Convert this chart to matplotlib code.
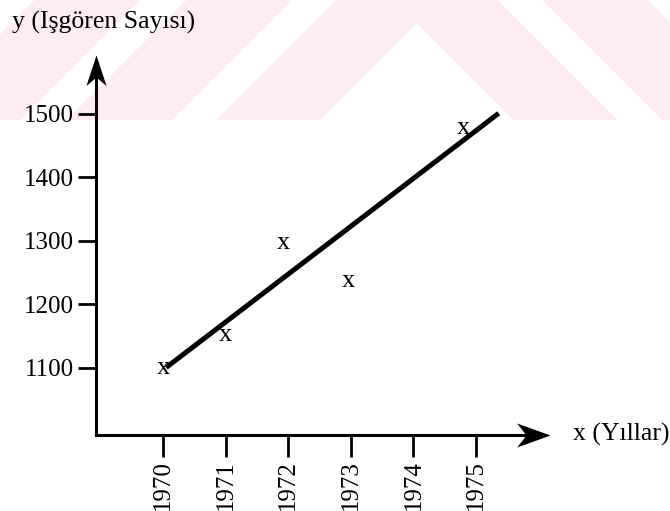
import numpy as np
import matplotlib.pyplot as plt
from matplotlib.path import Path

plt.rcParams['font.family'] = ['Liberation Serif', 'DejaVu Serif']

# veriler
yillar = [1970, 1971, 1971.92, 1972.96, 1974.8]
isgoren = [1100, 1152, 1297, 1236, 1478]
trend_x = [1970.05, 1975.36]
trend_y = [1100, 1501]
x_ticks = [1970, 1971, 1972, 1973, 1974, 1975]
y_ticks = [1100, 1200, 1300, 1400, 1500]

fig = plt.figure(figsize=(6.7, 5.11), dpi=100)

# arka plandaki soluk pembe filigran
H, W = 511, 670
yy, xx = np.mgrid[0:H, 0:W] + 0.5
s = np.where(xx < 417, xx + yy, 834 - xx + yy)
beyaz = (s < 35) | ((s > 140) & (s < 187)) | ((s > 292) & (s < 337)) | (s > 440) | (yy > 120)
pembe = np.array([253, 237, 240]) / 255
img = np.where(beyaz[..., None], np.ones(3), pembe)
bg = fig.add_axes([0, 0, 1, 1], zorder=-1)
bg.imshow(img, extent=[0, W, H, 0], aspect='auto', interpolation='bilinear')
bg.axis('off')

ax = fig.add_axes([0.1433, 0.1487, 0.6776, 0.7437])
ax.patch.set_alpha(0)
ax.set_xlim(1968.93, 1976.18)
ax.set_ylim(993.5, 1593)
for sp in ax.spines.values():
    sp.set_visible(False)

# eksen cizgileri ve tirnakli ok uclari
ok_sag = Path([(0, 0), (-1, 0.36), (-0.72, 0), (-1, -0.36), (0, 0)])
ok_ust = Path([(0, 0), (-0.33, -1), (0, -0.72), (0.33, -1), (0, 0)])
ax.plot([0, 0.97], [0, 0], color='black', lw=2.2, transform=ax.transAxes, clip_on=False)
ax.plot([0, 0], [0, 0.96], color='black', lw=2.2, transform=ax.transAxes, clip_on=False)
ax.plot([1], [0], marker=ok_sag, ms=48, color='black', mew=0, transform=ax.transAxes, clip_on=False)
ax.plot([0], [1], marker=ok_ust, ms=44, color='black', mew=0, transform=ax.transAxes, clip_on=False)

ax.set_xticks(x_ticks)
ax.set_xticklabels([str(t) for t in x_ticks], rotation=90, fontsize=18)
ax.set_yticks(y_ticks)
ax.set_yticklabels([str(t) for t in y_ticks], fontsize=18)
ax.tick_params(axis='x', length=16, width=2, pad=2, direction='out')
ax.tick_params(axis='y', length=13, width=2, pad=3, direction='out')

# regresyon dogrusu
ax.plot(trend_x, trend_y, color='black', lw=3.6, solid_capstyle='butt', clip_on=False)

# gozlem noktalari "x" harfi ile
for xi, yi in zip(yillar, isgoren):
    ax.text(xi, yi, 'x', fontsize=19, ha='center', va='center')

fig.text(12 / 670, 1 - 29 / 511, 'y (Işgören Sayısı)', fontsize=18.5, va='baseline')
fig.text(573 / 670, 1 - 434 / 511, 'x (Yıllar)', fontsize=18.5, va='center')

plt.savefig('out.png', dpi=100)
